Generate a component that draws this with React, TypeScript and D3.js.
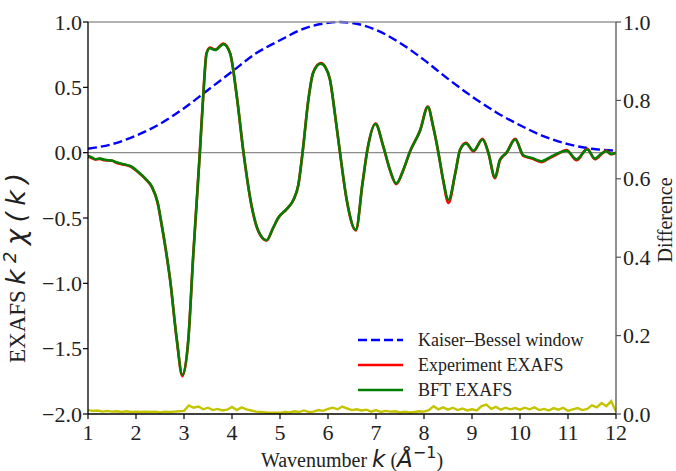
import React from "react";
import * as d3 from "d3";

const W = 676;
const H = 471;

// Green: BFT EXAFS (k, value)
const bftK = [1.0,1.1,1.15,1.25,1.35,1.5,1.6,1.77,1.9,2.04,2.2,2.33,2.45,2.53,2.62,2.71,2.85,2.965,3.09,3.19,3.26,3.33,3.40,3.47,3.54,3.65,3.82,3.96,4.1,4.24,4.41,4.55,4.72,4.85,4.96,5.14,5.28,5.38,5.47,5.59,5.69,5.85,5.95,6.04,6.15,6.25,6.39,6.58,6.72,6.82,6.99,7.15,7.29,7.42,7.57,7.71,7.92,8.08,8.19,8.30,8.40,8.51,8.65,8.75,8.875,9.03,9.22,9.34,9.48,9.58,9.72,9.9,10.07,10.25,10.45,10.6,10.76,10.97,11.18,11.4,11.56,11.7,11.8,11.9,12.0];
const bftV = [-0.025,-0.04,-0.05,-0.045,-0.055,-0.06,-0.075,-0.09,-0.105,-0.145,-0.2,-0.26,-0.38,-0.54,-0.74,-0.97,-1.43,-1.70,-1.43,-0.80,-0.40,0.0,0.43,0.76,0.80,0.785,0.83,0.76,0.43,0.0,-0.41,-0.60,-0.67,-0.58,-0.50,-0.43,-0.36,-0.25,0.0,0.40,0.61,0.68,0.65,0.56,0.28,0.0,-0.36,-0.59,-0.23,0.02,0.22,0.05,-0.13,-0.235,-0.13,0.01,0.17,0.35,0.20,0.0,-0.21,-0.36,-0.16,0.02,0.07,0.015,0.10,0.0,-0.19,-0.055,0.0,0.10,-0.02,-0.04,-0.065,-0.04,-0.01,0.015,-0.05,0.025,-0.045,-0.005,0.01,-0.01,0.0];
// Red: Experiment EXAFS
const expV = [-0.028,-0.045,-0.052,-0.048,-0.058,-0.062,-0.078,-0.093,-0.108,-0.148,-0.202,-0.262,-0.382,-0.542,-0.742,-0.972,-1.432,-1.71,-1.432,-0.802,-0.402,0.0,0.432,0.762,0.805,0.788,0.835,0.762,0.432,0.0,-0.412,-0.602,-0.672,-0.582,-0.502,-0.432,-0.362,-0.252,0.0,0.402,0.612,0.685,0.652,0.562,0.282,0.0,-0.362,-0.595,-0.232,0.02,0.222,0.05,-0.132,-0.24,-0.132,0.01,0.172,0.352,0.202,0.0,-0.212,-0.385,-0.162,0.02,0.075,0.01,0.105,0.0,-0.195,-0.06,0.0,0.105,-0.025,-0.045,-0.072,-0.045,-0.015,0.02,-0.058,0.03,-0.05,-0.01,0.015,-0.012,0.0];

// Blue: Kaiser-Bessel window
const kbK = [1,1.5,2,2.5,3,3.5,4,4.5,5,5.5,6,6.25,6.5,7,7.5,8,8.5,9,9.5,10,10.5,11,11.5,12];
const kbV = [0.03,0.065,0.13,0.22,0.34,0.48,0.62,0.76,0.86,0.95,0.993,1.0,0.993,0.94,0.84,0.71,0.565,0.43,0.31,0.21,0.125,0.065,0.03,0.015];

// Yellow: Difference (right axis), k from 1.0 to 12.0 step 0.1
const diffV = [
  0.010,0.008,0.009,0.006,0.008,0.006,0.007,0.005,0.007,0.005,
  0.006,0.005,0.006,0.005,0.006,0.004,0.006,0.005,0.006,0.007,
  0.008,0.022,0.016,0.019,0.012,0.016,0.010,0.013,0.009,0.011,
  0.018,0.010,0.017,0.012,0.009,0.006,0.005,0.004,0.003,0.003,
  0.003,0.005,0.004,0.007,0.005,0.009,0.005,0.006,0.010,0.008,
  0.013,0.016,0.012,0.019,0.014,0.010,0.012,0.009,0.011,0.006,
  0.010,0.005,0.008,0.006,0.007,0.004,0.006,0.004,0.005,0.007,
  0.006,0.010,0.020,0.012,0.017,0.011,0.016,0.010,0.014,0.009,
  0.012,0.009,0.020,0.024,0.013,0.018,0.011,0.016,0.012,0.015,
  0.011,0.016,0.012,0.017,0.010,0.013,0.009,0.015,0.011,0.016,
  0.008,0.012,0.015,0.010,0.013,0.022,0.017,0.028,0.020,0.033,
  0.006,
];
const diffK = diffV.map((_, i) => 1 + i * 0.1);

const xTicks = [1,2,3,4,5,6,7,8,9,10,11,12];
const yLeftTicks = [-2.0,-1.5,-1.0,-0.5,0.0,0.5,1.0];
const yRightTicks = [0.0,0.2,0.4,0.6,0.8,1.0];

const legendItems = ["Kaiser\u2013Bessel window", "Experiment EXAFS", "BFT EXAFS"];

const SERIF = "Liberation Serif, serif";
const MATH = "DejaVu Sans, sans-serif";
const T: React.CSSProperties = { fontFamily: SERIF };
const M: React.CSSProperties = { fontFamily: MATH, fontStyle: "italic" };
const MU: React.CSSProperties = { fontFamily: MATH };

export default function App() {
  const left = 88, right = 616, top = 22, bottom = 414;
  const x = d3.scaleLinear().domain([1, 12]).range([left, right]);
  const yL = d3.scaleLinear().domain([-2, 1]).range([bottom, top]);
  const yR = d3.scaleLinear().domain([0, 1]).range([bottom, top]);

  const lineL = d3.line<[number, number]>().x(d => x(d[0])).y(d => yL(d[1])).curve(d3.curveMonotoneX);
  const lineR = d3.line<[number, number]>().x(d => x(d[0])).y(d => yR(d[1])).curve(d3.curveLinear);

  const bft = bftK.map((k, i) => [k, bftV[i]] as [number, number]);
  const exp = bftK.map((k, i) => [k, expV[i]] as [number, number]);
  const kb = kbK.map((k, i) => [k, kbV[i]] as [number, number]);
  const diff = diffK.map((k, i) => [k, diffV[i]] as [number, number]);

  const fmt = (v: number) => (v < 0 ? "\u2212" : "") + Math.abs(v).toFixed(1);

  const legendColors = ["#0000ff", "#ff0000", "#008000"];
  const legendY = [340, 365, 390];

  return (
    <div style={{ position: "absolute", left: 0, top: 0 }}>
      <svg width={W} height={H} style={{ display: "block", background: "#fff", fontFamily: SERIF }}>
        <defs>
          <clipPath id="plot">
            <rect x={left} y={top - 3} width={right - left} height={bottom - top + 3} />
          </clipPath>
        </defs>
        {/* zero line */}
        <line x1={left} x2={right} y1={yL(0)} y2={yL(0)} stroke="#8c8c8c" strokeWidth={1.3} />
        <g clipPath="url(#plot)">
          <path d={lineR(diff) || ""} fill="none" stroke="#c4c400" strokeWidth={2.4} />
          <path d={lineL(kb) || ""} fill="none" stroke="#0000ff" strokeWidth={2.4} strokeDasharray="9,4" />
          <path d={lineL(exp) || ""} fill="none" stroke="#ff0000" strokeWidth={2.7} />
          <path d={lineL(bft) || ""} fill="none" stroke="#008000" strokeWidth={2.5} />
        </g>
        {/* spines */}
        <line x1={left} x2={right} y1={top} y2={top} stroke="#999" strokeWidth={1.3} />
        <line x1={right} x2={right} y1={top} y2={bottom} stroke="#555" strokeWidth={1.3} />
        <line x1={left} x2={left} y1={top} y2={bottom} stroke="#000" strokeWidth={1.3} />
        <line x1={left} x2={right} y1={bottom} y2={bottom} stroke="#000" strokeWidth={1.3} />

        {/* bottom ticks */}
        {xTicks.map(t => (
          <g key={"x" + t}>
            <line x1={x(t)} x2={x(t)} y1={bottom} y2={bottom + 5} stroke="#000" strokeWidth={1.2} />
            <text style={T} x={x(t)} y={bottom + 26} fontSize={22} textAnchor="middle" fill="#222">{t}</text>
          </g>
        ))}
        {/* left ticks */}
        {yLeftTicks.map(t => (
          <g key={"l" + t}>
            <line x1={left - 5} x2={left} y1={yL(t)} y2={yL(t)} stroke="#000" strokeWidth={1.2} />
            <text style={T} x={left - 6} y={yL(t) + 7.5} fontSize={22} textAnchor="end" fill="#222">{fmt(t)}</text>
          </g>
        ))}
        {/* right ticks */}
        {yRightTicks.map(t => (
          <g key={"r" + t}>
            <line x1={right} x2={right + 5} y1={yR(t)} y2={yR(t)} stroke="#555" strokeWidth={1.2} />
            <text style={T} x={right + 7} y={yR(t) + 7.5} fontSize={22} textAnchor="start" fill="#222">{t.toFixed(1)}</text>
          </g>
        ))}

        {/* x axis label */}
        <text style={T} x={352} y={467} fontSize={20} textAnchor="middle" fill="#222">
          Wavenumber <tspan style={M} fontSize={23}>k</tspan> (<tspan style={M} fontSize={23}>Å</tspan>
          <tspan style={MU} dy={-9} fontSize={16}>{"\u22121"}</tspan>
          <tspan dy={9}>)</tspan>
        </text>
        {/* left y label */}
        <g transform="translate(25, 0) rotate(-90)">
          <text style={T} x={-363} y={0} fontSize={23} fill="#222">EXAFS</text>
          <text style={M} x={-285} y={0} fontSize={27} fill="#222" textLength={112} lengthAdjust="spacing">
            k<tspan style={MU} dy={-9} fontSize={18}>2</tspan><tspan dy={9}>χ</tspan><tspan style={MU}>(</tspan>k<tspan style={MU}>)</tspan>
          </text>
        </g>
        {/* right y label */}
        <text style={T} transform="translate(672, 220) rotate(-90)" fontSize={20} textAnchor="middle" fill="#222">
          Difference
        </text>

        {/* legend */}
        {legendItems.map((name, i) => (
          <g key={name}>
            <line x1={358} x2={403} y1={legendY[i]} y2={legendY[i]} stroke={legendColors[i]} strokeWidth={2.4}
              strokeDasharray={i === 0 ? "9,4" : undefined} />
            <text style={T} x={418} y={legendY[i] + 6} fontSize={18} fill="#222">{name}</text>
          </g>
        ))}
      </svg>
    </div>
  );
}
